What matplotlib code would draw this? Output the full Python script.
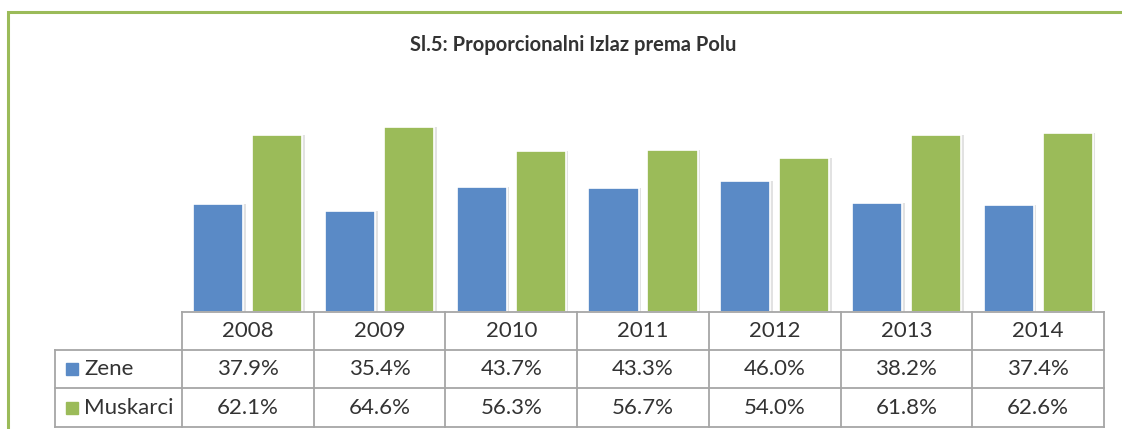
import matplotlib.pyplot as plt
import matplotlib.patches as mpatches
import matplotlib.transforms as mtransforms
import numpy as np

plt.rcParams['font.family'] = ['Lato', 'DejaVu Sans']

# podaci
years = ['2008', '2009', '2010', '2011', '2012', '2013', '2014']
zene = [37.9, 35.4, 43.7, 43.3, 46.0, 38.2, 37.4]
muskarci = [62.1, 64.6, 56.3, 56.7, 54.0, 61.8, 62.6]
series_names = ['Zene', 'Muskarci']
title = 'Sl.5: Proporcionalni Izlaz prema Polu'

c_blue = '#5A8AC6'
c_green = '#9BBB59'
c_grid = '#A6A6A6'
c_text = '#333333'

W, H = 1122, 429
fig = plt.figure(figsize=(W / 100, H / 100), dpi=100)

# okvir grafikona (zeleni)
fig.patches.append(mpatches.Rectangle((8 / W, -0.1), 1.2, (H - 12) / H + 0.1,
                                      transform=fig.transFigure, fill=False,
                                      ec=c_green, lw=2.2))

fig.text(573 / W, 1 - 45 / H, title, ha='center', va='center',
         fontsize=14.5, fontweight='bold', color=c_text)

ax = fig.add_axes([182 / W, 1 - 312 / H, 922 / W, 200 / H])
x = np.arange(len(years))
bw = 0.38
off = 0.224
for vals, dx, col in [(zene, -off, c_blue), (muskarci, off, c_green)]:
    # senka
    ax.bar(x + dx + 0.02, vals, bw, color='#D0D0D0', alpha=0.6, zorder=1)
    ax.bar(x + dx, vals, bw, color=col, edgecolor='white', lw=1.2, zorder=2)
ax.set_xlim(-0.5, len(years) - 0.5)
ax.set_ylim(0, 70)
ax.axis('off')

# tabela podataka ispod grafikona
def fy(py):
    return 1 - py / H

blend = mtransforms.blended_transform_factory(ax.transData, fig.transFigure)
x_left = -0.5 - (182 - 55) / (922 / 7)
x_right = len(years) - 0.5
rows_y = [312, 350, 388, 427]

line_kw = dict(color=c_grid, lw=1.3, transform=blend, clip_on=False)
ax.plot([-0.5, x_right], [fy(312)] * 2, **line_kw)
for yy in rows_y[1:]:
    ax.plot([x_left, x_right], [fy(yy)] * 2, **line_kw)
for i in range(len(years) + 1):
    ax.plot([i - 0.5] * 2, [fy(312), fy(427)], **line_kw)
ax.plot([x_left] * 2, [fy(350), fy(427)], **line_kw)

txt_kw = dict(ha='center', va='center', fontsize=16, color=c_text,
              transform=blend, clip_on=False)
for i, yr in enumerate(years):
    ax.text(i, fy(331), yr, **txt_kw)
    ax.text(i, fy(369), f'{zene[i]:.1f}%', **txt_kw)
    ax.text(i, fy(407.5), f'{muskarci[i]:.1f}%', **txt_kw)

for name, col, yy in [(series_names[0], c_blue, 369), (series_names[1], c_green, 407.5)]:
    fig.patches.append(mpatches.Rectangle((66 / W, fy(yy + 6)), 12 / W, 12 / H,
                                          transform=fig.transFigure, color=col))
    fig.text(84 / W, fy(yy), name, ha='left', va='center', fontsize=16, color=c_text)

fig.savefig('out.png', dpi=100)
